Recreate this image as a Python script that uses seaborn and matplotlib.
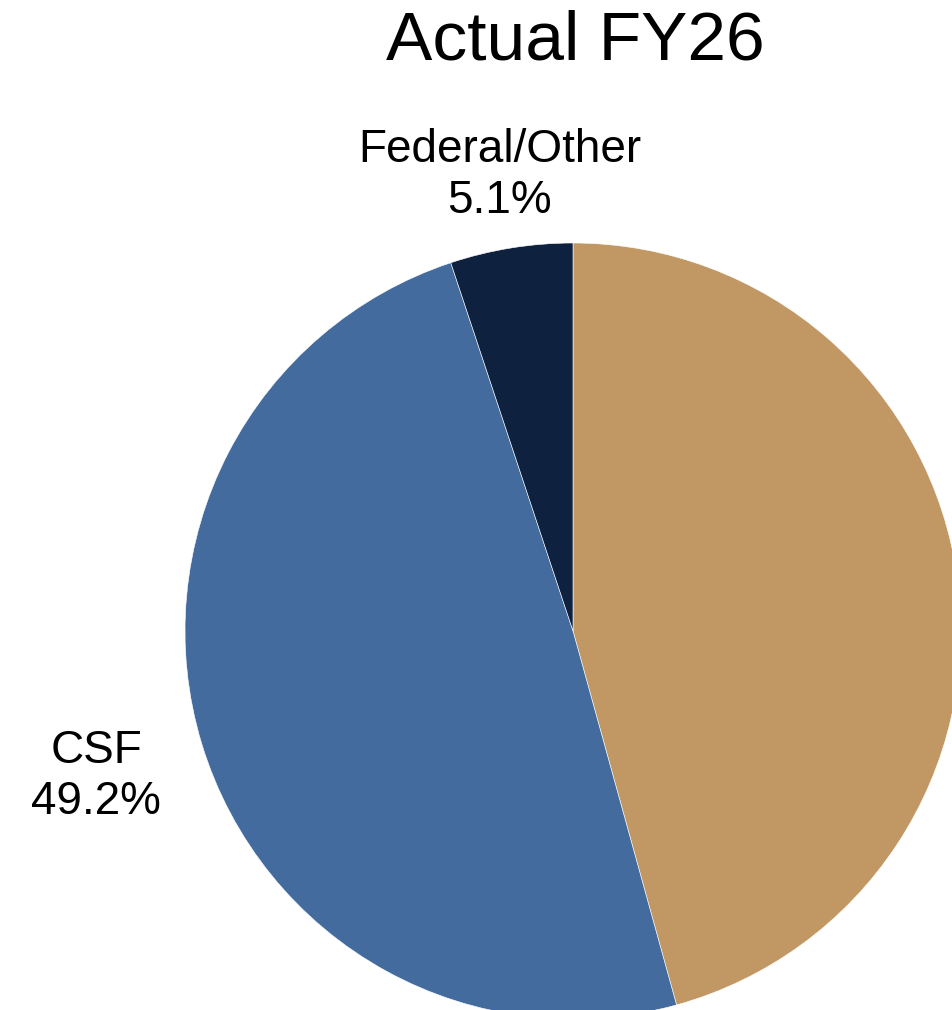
import numpy as np
import seaborn as sns
import matplotlib
matplotlib.use("Agg")
import matplotlib.pyplot as plt

# data (tan slice label sits off the right edge)
categories = ["", "CSF", "Federal/Other"]
shares = [45.7, 49.2, 5.1]
slice_colors = ["#C19764", "#436B9E", "#0E223F"]
label_dist = [1.25, 1.285, 1.19]
title = "Actual FY26"

sns.set_theme(style="white")
plt.rcParams["font.family"] = ["Liberation Sans", "DejaVu Sans"]

fig = plt.figure(figsize=(9.53, 10.1), dpi=100)
ax = fig.add_axes([0, 0, 1, 1])

wedges, _ = ax.pie(shares, colors=slice_colors, startangle=90, counterclock=False,
                   radius=1, wedgeprops=dict(edgecolor="white", linewidth=0.4))

# place category/percent labels at each wedge's mid angle
for w, name, val, d in zip(wedges, categories, shares, label_dist):
    if not name:
        continue
    mid = np.deg2rad((w.theta1 + w.theta2) / 2)
    ax.text(d * np.cos(mid), d * np.sin(mid), f"{name}\n{val:.1f}%",
            ha="center", va="center", fontsize=33, linespacing=1.2, color="black")

# pie center ~ (573, 631) px, radius ~388 px, cropped on the right
r_px = 388
ax.set_xlim(-573 / r_px, (953 - 573) / r_px)
ax.set_ylim(-(1010 - 631) / r_px, 631 / r_px)
ax.set_aspect("auto")
ax.axis("off")

fig.text(575 / 953, 1 - 42 / 1010, title, ha="center", va="center", fontsize=50, color="black")

plt.savefig("out.png", dpi=100)
